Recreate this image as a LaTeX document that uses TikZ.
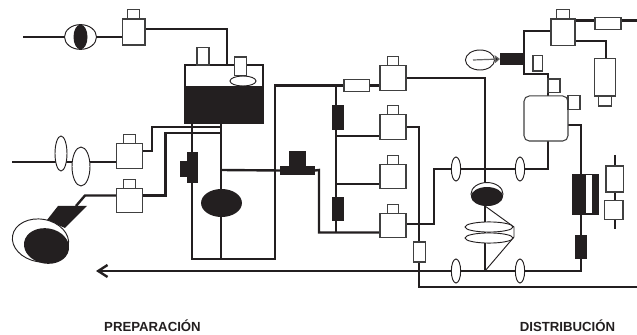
\documentclass[tikz,border=0pt]{standalone}
\usepackage{fontspec}
\setmainfont{Liberation Sans}
\usetikzlibrary{arrows.meta, positioning, shapes.geometric, backgrounds}
\definecolor{ink}{HTML}{231F20}
\begin{document}
\begin{tikzpicture}[
      x=0.75pt, y=-0.75pt,
      every node/.append style={inner sep=0pt, outer sep=0pt},
      pipe/.style={draw=ink, line width=1.8pt, line join=miter},
      thinline/.style={draw=ink, line width=0.7pt},
      vbox/.style={rectangle, draw=black!75, line width=0.8pt, fill=white,
                   minimum width=19.5pt, minimum height=18.4pt},
      cbox/.style={rectangle, draw=black!75, line width=0.8pt, fill=white,
                   minimum width=8.4pt, minimum height=6.8pt},
      rbox/.style={vbox, minimum width=18.8pt, minimum height=9pt},
      dbox/.style={rectangle, fill=ink, minimum width=8.6pt, minimum height=18.4pt},
      lens/.style={ellipse, draw=ink, line width=0.7pt, fill=white,
                   minimum width=7pt, minimum height=18pt},
      dlens/.style={ellipse, fill=ink},
      label/.style={font=\fontsize{9.9}{11}\selectfont\bfseries, text=ink},
    ]
      \useasboundingbox (0,0) rectangle (637,335);

      \fill[ink] (58,206) -- (87,206) -- (65,228) -- (47,220) -- cycle;

      \node[lens, minimum width=24pt, minimum height=18.6pt] (eye) at (80.5,37) {};
      \node[dlens, minimum width=10.5pt, minimum height=18.6pt] (eyeIn) at (80.5,37) {};
      \node[vbox, minimum width=17.2pt, minimum height=19.5pt] (boxA) at (133.5,32) {};
      \node[cbox, above=0pt of boxA] (capA) {};

      \node[rectangle, pipe, fill=white, minimum width=58.5pt, minimum height=43.5pt] (tank) at (224,94) {};
      \node[rectangle, fill=ink, minimum width=59.5pt, minimum height=27.75pt] (tankIn) at (224,104.5) {};
      \node[cbox, minimum width=9pt, minimum height=12.8pt] (capTankA) at (203,56.5) {};
      \node[cbox, minimum width=9.6pt, minimum height=14.2pt] (capTankB) at (240.5,66.5) {};
      \node[lens, minimum width=19.5pt, minimum height=7.5pt] (floatT) at (243,81) {};

      \node[lens, minimum width=9pt, minimum height=26.2pt] (lensA) at (61,153.5) {};
      \node[lens, minimum width=13.5pt, minimum height=29.2pt] (lensB) at (81,166.5) {};
      \node[vbox, minimum width=20pt] (boxB) at (129.5,156) {};
      \node[cbox, above=0pt of boxB] (capB) {};
      \node[vbox, minimum width=20pt] (boxC) at (129.5,200.5) {};
      \node[cbox, above=0pt of boxC] (capC) {};

      \node[ellipse, draw=ink, line width=0.7pt, fill=white, minimum width=42.5pt, minimum height=32pt, rotate=-10] (lampOut) at (40.5,240.5) {};
      \node[dlens, minimum width=34pt, minimum height=26.5pt, rotate=-10] (lampIn) at (46.5,246) {};

      \node[dbox, minimum height=23.2pt] (blockA) at (192.5,167.5) {};
      \node[dbox, minimum width=5.4pt, minimum height=12pt] (blockB) at (183.5,169) {};
      \node[dlens, minimum width=30.7pt, minimum height=21pt] (pump) at (221.5,203) {};
      \node[dbox, minimum width=26.2pt, minimum height=6.8pt] (bar) at (297.5,170.5) {};
      \node[dbox, minimum width=12.8pt, minimum height=11.5pt, above=0pt of bar] (barTop) {};

      \node[rbox] (rectA) at (356.5,85.5) {};
      \node[vbox] (boxD) at (393,78) {};
      \node[cbox, above=0pt of boxD] (capD) {};
      \node[vbox] (boxE) at (393,127) {};
      \node[cbox, above=0pt of boxE] (capE) {};
      \node[vbox] (boxF) at (393,176.5) {};
      \node[cbox, above=0pt of boxF] (capF) {};
      \node[vbox] (boxG) at (393,225.5) {};
      \node[cbox, above=0pt of boxG] (capG) {};
      \node[dbox] (blockC) at (338,117.5) {};
      \node[dbox] (blockD) at (338,209) {};
      \node[rbox, minimum width=9pt, minimum height=15pt] (rectB) at (419.5,252) {};

      \node[lens] (lensC) at (456,169) {};
      \node[lens] (lensD) at (520,169) {};
      \node[lens] (lensE) at (456,271) {};
      \node[lens] (lensF) at (520,271) {};

      \node[lens, minimum width=24pt, minimum height=17.2pt] (heaterOut) at (487,194) {};
      \node[dlens, minimum width=24pt, minimum height=14.2pt] (heaterIn) at (487,196.5) {};
      \node[lens, minimum width=36pt, minimum height=7.6pt] (coilA) at (489,227) {};
      \node[lens, minimum width=36pt, minimum height=7.6pt] (coilB) at (489,238) {};

      \node[lens, minimum width=21.8pt, minimum height=15pt] (gauge) at (480,60) {};
      \node[dbox, minimum width=18pt, minimum height=9pt] (blockE) at (512,59) {};
      \node[vbox, minimum width=6.8pt, minimum height=11.3pt] (rectC) at (537.5,63.5) {};

      \node[rectangle, draw=black!75, line width=0.8pt, rounded corners=4pt, fill=white, minimum width=33pt, minimum height=33.8pt] (vessel) at (546,118.5) {};
      \node[cbox, minimum width=9pt, minimum height=10.2pt] (capH) at (554,85.8) {};
      \node[cbox, minimum width=9pt, minimum height=10.5pt] (capJ) at (574,102.5) {};

      \node[vbox, minimum width=18pt, minimum height=20.2pt] (boxI) at (563,32.5) {};
      \node[cbox, minimum width=9.6pt, above=0pt of boxI] (capI) {};
      \node[rbox, minimum width=19.5pt, minimum height=9.4pt] (rectD) at (608,23.5) {};
      \node[vbox, minimum width=16pt, minimum height=27.8pt] (cyl) at (605,77.5) {};
      \node[cbox, minimum width=9.4pt, minimum height=7.5pt, below=0pt of cyl] (capK) {};

      \node[dbox, minimum width=20.2pt, minimum height=30.8pt] (coreA) at (585.5,194.5) {};
      \node[rectangle, fill=white, minimum width=4.5pt, minimum height=28.5pt] (coreB) at (589,194.5) {};
      \node[dbox, minimum width=8.6pt, minimum height=18pt] (blockF) at (581,247) {};
      \node[vbox, minimum width=12.8pt, minimum height=19.5pt] (boxL) at (614.5,179) {};
      \node[vbox, minimum width=14.2pt, minimum height=14.5pt] (boxM) at (613.5,210) {};

      \node[label] (prep) at (152.5,326) {PREPARACIÓN};
      \node[label] (dist) at (567.5,326) {DISTRIBUCIÓN};

      \coordinate (feedA) at (23,37);
      \coordinate (feedB) at (12,162);
      \coordinate (turnA) at (227,29);
      \coordinate (turnB) at (152,151);
      \coordinate (turnC) at (152,127);
      \coordinate (tapB) at (221,127);
      \coordinate (turnD) at (85,195.5);
      \coordinate (turnE) at (165.5,195.5);
      \coordinate (turnF) at (165.5,133);
      \coordinate (tapC) at (221,133);
      \coordinate (lampJoin) at (76,206);
      \coordinate (tapA) at (192,123);
      \coordinate (tapD) at (221,123);
      \coordinate (baseA) at (192,259);
      \coordinate (baseB) at (221,259);
      \coordinate (baseC) at (275,259);
      \coordinate (turnG) at (275,85.5);
      \coordinate (joinA) at (221,170);
      \coordinate (turnH) at (319,170);
      \coordinate (turnJ) at (319,232.5);
      \coordinate (riseA) at (336,85.5);
      \coordinate (riseB) at (336,232.5);
      \coordinate (joinB) at (336,136);
      \coordinate (joinC) at (336,184);
      \coordinate (turnK) at (485,78);
      \coordinate (joinD) at (485,271);
      \coordinate (turnL) at (419,127);
      \coordinate (turnM) at (419,287);
      \coordinate (drain) at (637,287);
      \coordinate (turnN) at (434,224);
      \coordinate (turnP) at (434,169);
      \coordinate (turnQ) at (548,169);
      \coordinate (turnR) at (581,125);
      \coordinate (turnS) at (581,271);
      \coordinate (tipEnd) at (96,271);
      \coordinate (turnT) at (524,31);
      \coordinate (turnU) at (524,74);
      \coordinate (turnV) at (548,74);
      \coordinate (turnW) at (606,41);
      \coordinate (outTop) at (637,20.7);
      \coordinate (rodTop) at (615,155);
      \coordinate (rodEnd) at (615,229);
      \coordinate (needle) at (473,60);
      \coordinate (apexA) at (485,206);
      \coordinate (apexB) at (514,227);
      \coordinate (apexC) at (514,237);

      \begin{scope}[on background layer]
        \draw[pipe] (feedA) -- (eye);
        \draw[pipe] (eye) -- (eye -| boxA.west);
        \draw[pipe] (turnA -| boxA.east) -- (turnA) -- (turnA |- tank.north);
        \draw[pipe] (feedB) -- (feedB -| boxB.west);
        \draw[pipe] (turnB -| boxB.east) -- (turnB) -- (turnC) -- (tapB);
        \draw[pipe] (lampJoin) -- (turnD) -- (turnD -| boxC.west);
        \draw[pipe] (turnE -| boxC.east) -- (turnE) -- (turnF) -- (tapC);
        \draw[pipe] (tapA) -- (baseA) -- (baseC) -- (turnG) -- (rectA.west);
        \draw[pipe] (rectA.east) -- (rectA -| boxD.west);
        \draw[pipe] (tapD) -- (baseB);
        \draw[pipe] (joinA) -- (bar.west);
        \draw[pipe] (bar.east) -- (turnH) -- (turnJ) -- (turnJ -| boxG.west);
        \draw[pipe] (riseA) -- (riseB);
        \draw[pipe] (joinB) -- (joinB -| boxE.west);
        \draw[pipe] (joinC) -- (joinC -| boxF.west);
        \draw[pipe] (turnK -| boxD.east) -- (turnK) -- (joinD);
        \draw[pipe] (turnL -| boxE.east) -- (turnL) -- (turnM) -- (drain);
        \draw[pipe] (turnN -| boxG.east) -- (turnN) -- (turnP) -- (turnQ) -- (turnQ |- vessel.south);
        \draw[pipe, -{Straight Barb[length=7pt,width=9pt]}] (turnR -| vessel.east) -- (turnR) -- (turnS) -- (tipEnd);
        \draw[pipe] (turnT -| boxI.west) -- (turnT) -- (turnU) -- (turnV) -- (turnV |- vessel.north);
        \draw[pipe] (outTop -| boxI.east) -- (outTop);
        \draw[pipe] (turnW -| boxI.east) -- (turnW) -- (turnW |- cyl.north);
        \draw[pipe] (rodTop) -- (rodEnd);
        \draw[thinline] (apexA) -- (apexB) -- (apexC) -- (joinD);
      \end{scope}
      \draw[draw=black!60, line width=0.9pt, -{Triangle[length=4pt,width=6pt,fill=ink]}] (needle) -- (blockE.west);
    \end{tikzpicture}
\end{document}
